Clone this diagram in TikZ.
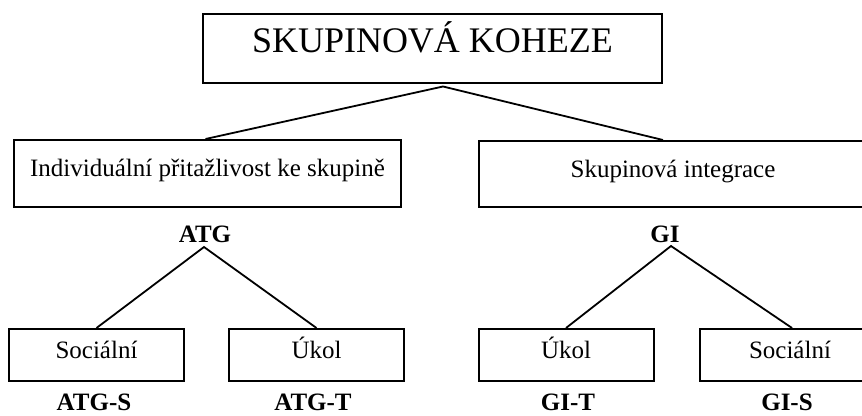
\documentclass[tikz,border=0pt]{standalone}
\usepackage{fontspec}
\setmainfont{Liberation Serif}
\begin{document}
\begin{tikzpicture}[x=1pt,y=-1pt,
  box/.style={draw=black,line width=2pt,rectangle,inner sep=0pt,font=\fontsize{25}{25}\selectfont,text height=0.7em,text depth=0.1em},
  titlebox/.style={box,font=\fontsize{36}{36}\selectfont,text height=0.86em,text depth=0em},
  code/.style={inner sep=0pt,anchor=base,font=\fontsize{25}{25}\selectfont\bfseries},
  conn/.style={line width=1.8pt}]
\useasboundingbox (0,0) rectangle (862,415);
% boxes
\node[titlebox,minimum width=459,minimum height=69] (top) at (432.5,48.5) {SKUPINOVÁ KOHEZE};
\node[box,minimum width=387,minimum height=67] (ind) at (207.5,173.5) {Individuální přitažlivost ke skupině};
\node[box,minimum width=388,minimum height=66] (gi) at (673,174) {Skupinová integrace};
\node[box,minimum width=175,minimum height=52] (atgs) at (96.5,355) {Sociální};
\node[box,minimum width=175,minimum height=52] (atgt) at (316.5,355) {Úkol};
\node[box,minimum width=175,minimum height=52] (git) at (566,355) {Úkol};
\node[box,minimum width=180,minimum height=52] (gis) at (790,355) {Sociální};
% codes
\node[code] (atg) at (205,242) {ATG};
\node[code] (gicode) at (665,242) {GI};
\node[code] (atgsc) at (94,410) {ATG-S};
\node[code] (atgtc) at (313,410) {ATG-T};
\node[code] (gitc) at (568,410) {GI-T};
\node[code] (gisc) at (787,410) {GI-S};
% connectors
\coordinate (apex) at (443,86.5);
\coordinate (atgapex) at (204,247);
\coordinate (giapex) at (671,246);
\draw[conn] ([xshift=-2pt]ind.north) -- (apex) -- ([xshift=-10pt]gi.north);
\draw[conn] (atgs.north) -- (atgapex) -- (atgt.north);
\draw[conn] (git.north) -- (giapex) -- ([xshift=2pt]gis.north);
\end{tikzpicture}
\end{document}
